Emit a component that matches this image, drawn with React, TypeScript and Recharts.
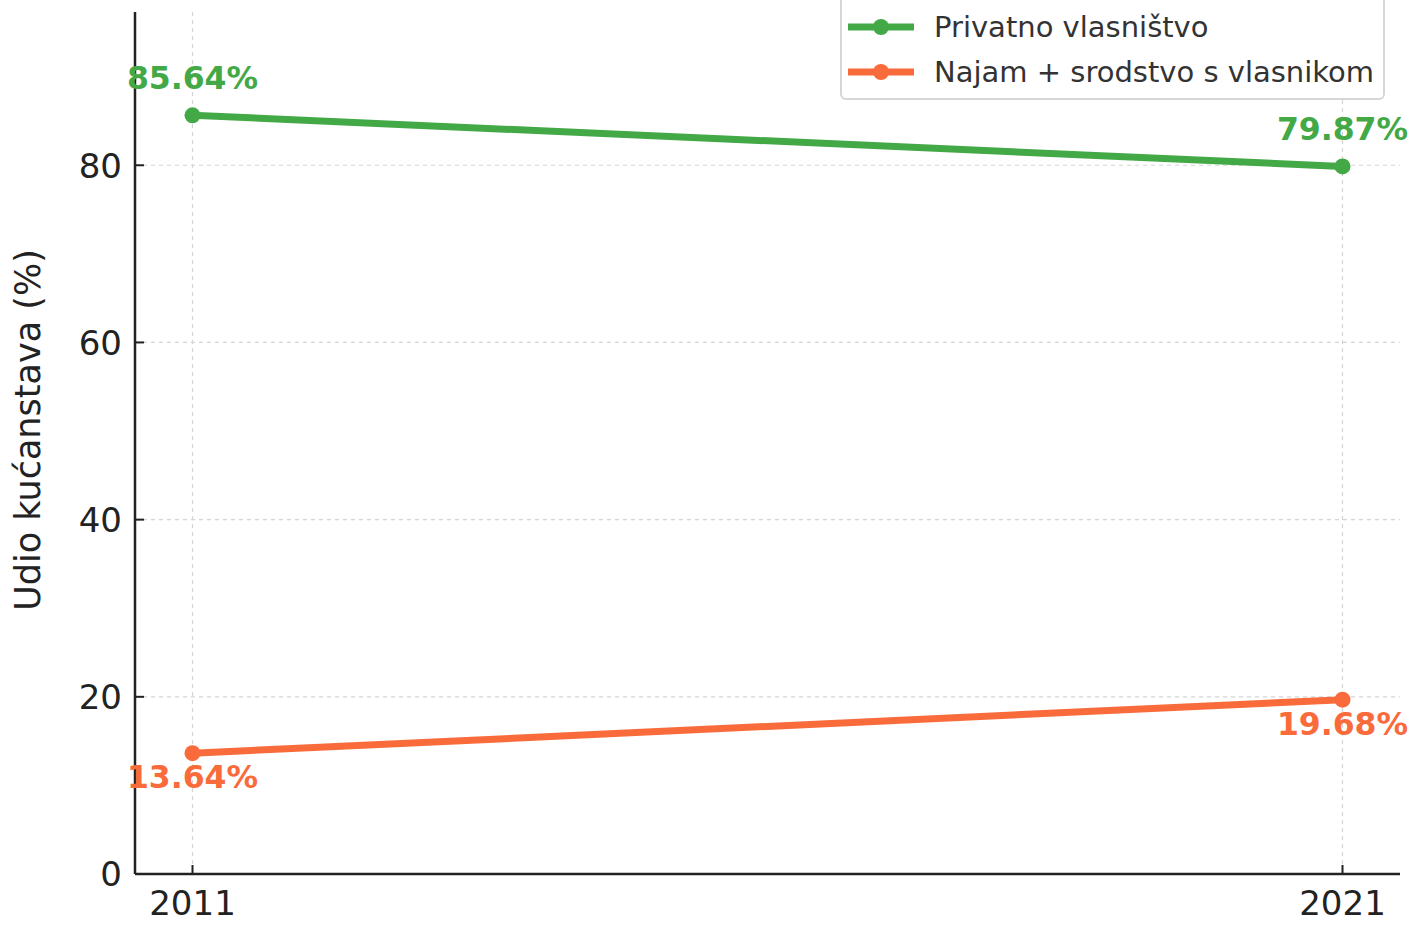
import { LineChart, Line, XAxis, YAxis, CartesianGrid, LabelList } from "recharts";

const years = [2011, 2021];
const privatno = [85.64, 79.87];
const najam = [13.64, 19.68];
const yTicks = [0, 20, 40, 60, 80];
const seriesNames = ["Privatno vlasništvo", "Najam + srodstvo s vlasnikom"];

const GREEN = "#43a946";
const ORANGE = "#f96b3b";
const FONT = "DejaVu Sans, sans-serif";

const data = years.map((year, i) => ({ year, priv: privatno[i], najam: najam[i] }));

const YTick = (props: any) => {
  const { x, y, payload } = props;
  return (
    <g>
      <line x1={x + 13} x2={x + 22} y1={y} y2={y} stroke="#222" strokeWidth={2} />
      <text x={x} y={y} dy="0.36em" textAnchor="end" fontSize={34} fill="#222" fontFamily={FONT}>
        {payload.value}
      </text>
    </g>
  );
};

const XTick = (props: any) => {
  const { x, y, payload } = props;
  return (
    <g>
      <line x1={x} x2={x} y1={y - 10} y2={y - 19} stroke="#222" strokeWidth={2} />
      <text x={x} y={y} dy="0.92em" textAnchor="middle" fontSize={34} fill="#222" fontFamily={FONT}>
        {payload.value}
      </text>
    </g>
  );
};

const makeLabel = (color: string, offset: number) => (props: any) => {
  const { x, y, value } = props;
  return (
    <text
      x={x}
      y={y + offset}
      textAnchor="middle"
      dominantBaseline="central"
      fontSize={31.5}
      fontWeight="bold"
      fill={color}
      fontFamily={FONT}
    >
      {value.toFixed(2)}%
    </text>
  );
};

const AxisTitle = () => (
  <text
    x={28}
    y={430}
    transform="rotate(-90 28 430)"
    textAnchor="middle"
    dominantBaseline="central"
    fontSize={35}
    fill="#222"
    fontFamily={FONT}
  >
    Udio kućanstava (%)
  </text>
);

const LegendBox = () => (
  <div
    style={{
      position: "absolute",
      left: 840,
      top: -8,
      width: 545,
      boxSizing: "border-box",
      border: "2px solid #d6d6d6",
      borderRadius: 6,
      background: "rgba(255,255,255,0.9)",
      padding: "10px 0 4px 6px",
      fontFamily: FONT,
      fontSize: 29,
      color: "#333",
    }}
  >
    {[GREEN, ORANGE].map((c, i) => (
      <div key={i} style={{ display: "flex", alignItems: "center", height: 45 }}>
        <svg width={66} height={20} style={{ marginRight: 20 }}>
          <line x1={0} x2={66} y1={10} y2={10} stroke={c} strokeWidth={7} />
          <circle cx={33} cy={10} r={8} fill={c} />
        </svg>
        <span>{seriesNames[i]}</span>
      </div>
    ))}
  </div>
);

export default function App() {
  return (
    <div style={{ position: "absolute", left: 0, top: 0, width: 1426, height: 935, background: "#fff", overflow: "hidden" }}>
      <LineChart
        width={1426}
        height={935}
        data={data}
        margin={{ top: 12, right: 26, bottom: 0, left: 0 }}
      >
        <CartesianGrid
          stroke="#d4d4d4"
          strokeDasharray="4 4"
          strokeWidth={1.2}
          horizontalValues={yTicks}
          verticalValues={years}
        />
        <XAxis
          type="number"
          dataKey="year"
          domain={[2010.5, 2021.5]}
          ticks={years}
          height={61}
          tickSize={0}
          tickMargin={10}
          tick={<XTick />}
          axisLine={{ stroke: "#222", strokeWidth: 2.5 }}
          tickLine={false}
        />
        <YAxis
          type="number"
          domain={[0, 97.3]}
          ticks={yTicks}
          width={135}
          tickSize={0}
          tickMargin={13}
          tick={<YTick />}
          axisLine={{ stroke: "#222", strokeWidth: 2.5 }}
          tickLine={false}
          label={<AxisTitle />}
        />
        <Line
          type="linear"
          dataKey="priv"
          stroke={GREEN}
          strokeWidth={7}
          dot={{ r: 8, fill: GREEN, stroke: "none" }}
          isAnimationActive={false}
        >
          <LabelList dataKey="priv" content={makeLabel(GREEN, -37)} />
        </Line>
        <Line
          type="linear"
          dataKey="najam"
          stroke={ORANGE}
          strokeWidth={7}
          dot={{ r: 8, fill: ORANGE, stroke: "none" }}
          isAnimationActive={false}
        >
          <LabelList dataKey="najam" content={makeLabel(ORANGE, 24)} />
        </Line>
      </LineChart>
      <LegendBox />
    </div>
  );
}
